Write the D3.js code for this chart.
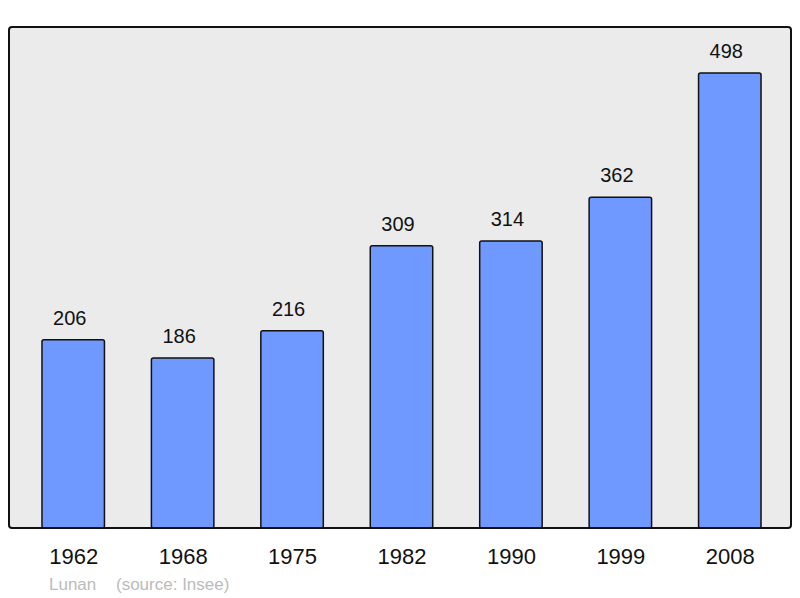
<!DOCTYPE html>
<html lang="fr">
<head>
<meta charset="UTF-8">
<title>Lunan population</title>
<script src="https://d3js.org/d3.v7.min.js"></script>
<style>
    body { margin: 0; background: #fff; }
    svg { display: block; }
    text { font-family: "Liberation Sans", Arial, sans-serif; }
</style>
</head>
<body>
<svg id="chart" width="800" height="598"></svg>
<script>
    // data
    const years = ["1962", "1968", "1975", "1982", "1990", "1999", "2008"];
    const population = [206, 186, 216, 309, 314, 362, 498];
    const commune = "Lunan";
    const source = "(source: Insee)";

    const svg = d3.select("#chart");

    // plot frame
    const frame = { left: 9, top: 27, right: 791, bottom: 528 };

    const x = d3.scaleBand()
        .domain(years)
        .range([19, 785])
        .paddingInner(0.42)
        .paddingOuter(0.21);

    const y = d3.scaleLinear()
        .domain([0, 498])
        .range([frame.bottom, 73]);

    svg.append("rect")
        .attr("x", frame.left)
        .attr("y", frame.top)
        .attr("width", frame.right - frame.left)
        .attr("height", frame.bottom - frame.top)
        .attr("rx", 3)
        .attr("fill", "#ebebeb");

    const data = years.map((yr, i) => ({ year: yr, value: population[i] }));

    svg.append("g")
        .selectAll("rect")
        .data(data)
        .join("rect")
        .attr("x", d => x(d.year))
        .attr("y", d => y(d.value))
        .attr("width", x.bandwidth() - 1)
        .attr("height", d => y(0) - y(d.value))
        .attr("rx", 2)
        .attr("fill", "#7099ff")
        .attr("stroke", "#111")
        .attr("stroke-width", 1.5);

    // value labels above bars (sit a little left of bar centre)
    svg.append("g")
        .selectAll("text")
        .data(data)
        .join("text")
        .attr("x", d => x(d.year) + x.bandwidth() / 2 - 4)
        .attr("y", d => y(d.value) - 15)
        .attr("text-anchor", "middle")
        .attr("font-size", 20)
        .attr("fill", "#111")
        .text(d => d.value);

    // frame border drawn on top
    svg.append("rect")
        .attr("x", frame.left)
        .attr("y", frame.top)
        .attr("width", frame.right - frame.left)
        .attr("height", frame.bottom - frame.top)
        .attr("rx", 3)
        .attr("fill", "none")
        .attr("stroke", "#111")
        .attr("stroke-width", 2);

    // year axis labels
    const xAxis = d3.axisBottom(x).tickSize(0).tickPadding(0);
    const gx = svg.append("g")
        .attr("transform", `translate(0,${frame.bottom})`)
        .call(xAxis);
    gx.select(".domain").remove();
    gx.selectAll("text")
        .attr("y", 36)
        .attr("dy", null)
        .attr("font-size", 22)
        .attr("font-family", "'Liberation Sans', Arial, sans-serif")
        .attr("fill", "#111");

    // footer
    svg.append("text")
        .attr("x", 49)
        .attr("y", 590)
        .attr("font-size", 17)
        .attr("fill", "#bbb")
        .text(commune);
    svg.append("text")
        .attr("x", 116)
        .attr("y", 590)
        .attr("font-size", 17)
        .attr("fill", "#bbb")
        .text(source);
</script>
</body>
</html>
